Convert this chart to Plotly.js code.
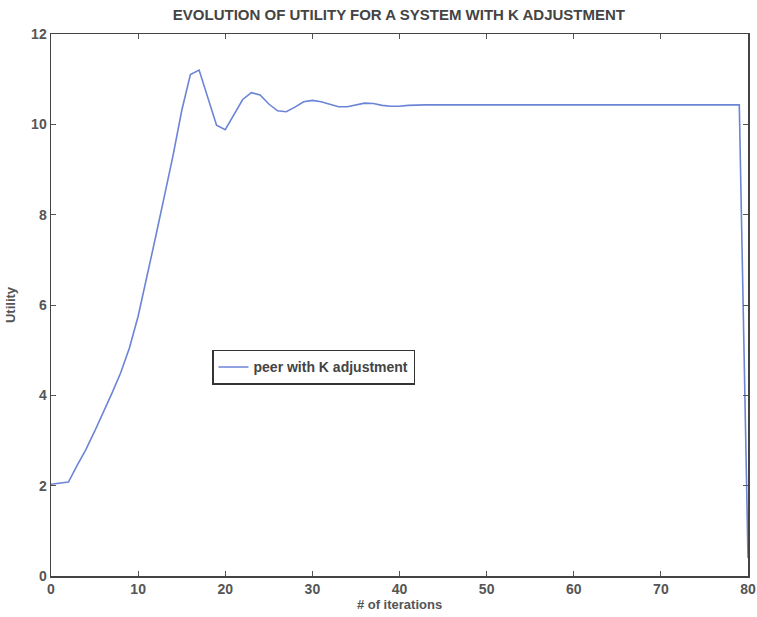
<!DOCTYPE html>
<html>
<head>
<meta charset="utf-8">
<script src="https://cdn.plot.ly/plotly-3.0.1.min.js"></script>
<style>html,body{margin:0;padding:0;background:#fff;}#chart{width:757px;height:617px;}</style>
</head>
<body>
<div id="chart"></div>
<script>
// iteration number
const iterations = [0,1,2,3,4,5,6,7,8,9,10,11,12,13,14,15,16,17,18,19,20,
  21,22,23,24,25,26,27,28,29,30,31,32,33,34,35,36,37,38,39,40,
  41,42,43,44,45,46,47,48,49,50,51,52,53,54,55,56,57,58,59,60,
  61,62,63,64,65,66,67,68,69,70,71,72,73,74,75,76,77,78,79,80];
// utility of peer with K adjustment
const utility = [2.03,2.06,2.08,2.45,2.8,3.2,3.62,4.05,4.5,5.05,5.75,6.6,7.5,8.4,9.3,10.3,11.1,11.2,10.6,9.98,9.88,
  10.2,10.55,10.7,10.65,10.45,10.3,10.28,10.38,10.5,10.53,10.5,10.44,10.39,10.39,10.43,10.47,10.46,10.42,10.4,10.4,
  10.42,10.43,10.43,10.43,10.43,10.43,10.43,10.43,10.43,10.43,10.43,10.43,10.43,10.43,10.43,10.43,10.43,10.43,10.43,10.43,
  10.43,10.43,10.43,10.43,10.43,10.43,10.43,10.43,10.43,10.43,10.43,10.43,10.43,10.43,10.43,10.43,10.43,10.43,10.43,0.4];
const xTicks = [0,10,20,30,40,50,60,70,80];
const yTicks = [0,2,4,6,8,10,12];

const FONT = 'Liberation Sans, Arial, sans-serif';
const bold = s => '<b>' + s + '</b>';

const trace = {
  x: iterations, y: utility, type: 'scatter', mode: 'lines',
  name: bold('peer with K adjustment'),
  line: {color: '#6b84d6', width: 1.6}
};
const axisCommon = {
  showline: true, linecolor: '#444', linewidth: 1.5, mirror: 'ticks',
  ticks: 'inside', ticklen: 5, tickcolor: '#555', tickwidth: 1,
  showgrid: false, zeroline: false,
  tickfont: {family: FONT, size: 14, color: '#555', weight: 'bold'}
};
const layout = {
  width: 757, height: 617,
  margin: {l: 51, r: 9, t: 34, b: 41},
  paper_bgcolor: '#fff', plot_bgcolor: '#fff',
  title: {text: 'EVOLUTION OF UTILITY FOR A SYSTEM WITH K ADJUSTMENT',
    font: {family: FONT, size: 15, color: '#444', weight: 'bold'},
    x: 0.527, xanchor: 'center', y: 0.976, yanchor: 'middle'},
  xaxis: Object.assign({}, axisCommon, {
    range: [0, 80], tickvals: xTicks, ticktext: xTicks.map(String),
    title: {text: '# of iterations', standoff: 3,
      font: {family: FONT, size: 13, color: '#555', weight: 'bold'}}
  }),
  yaxis: Object.assign({}, axisCommon, {
    range: [0, 12], tickvals: yTicks, ticktext: yTicks.map(String),
    title: {text: 'Utility', standoff: 12,
      font: {family: FONT, size: 13, color: '#555', weight: 'bold'}}
  }),
  showlegend: true,
  legend: {x: 0.231, y: 0.385, xanchor: 'left', yanchor: 'middle',
    bgcolor: '#fff', bordercolor: '#333', borderwidth: 1.5,
    font: {family: FONT, size: 14, color: '#444'},
    tracegroupgap: 0, itemwidth: 30}
};
Plotly.newPlot('chart', [trace], layout, {displayModeBar: false, staticPlot: true});
</script>
</body>
</html>
